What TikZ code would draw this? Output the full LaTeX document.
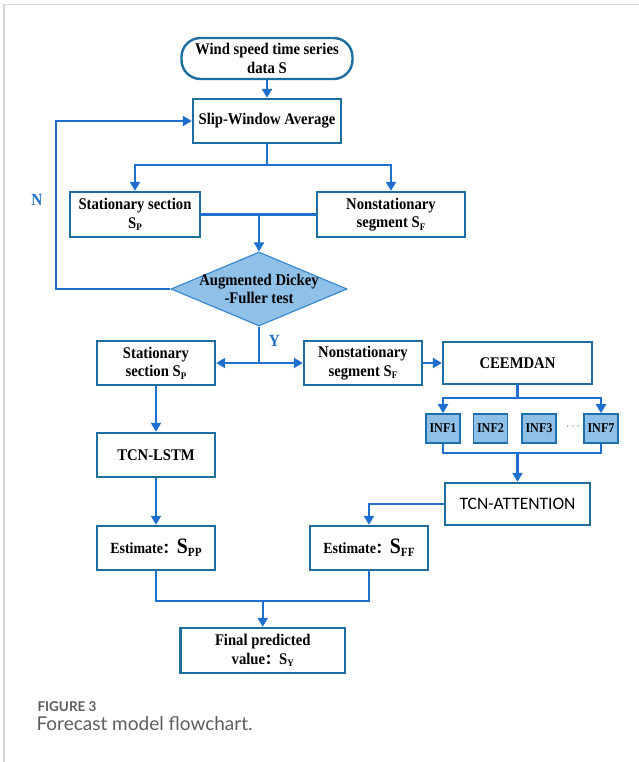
\documentclass[tikz,border=0pt]{standalone}
\usepackage{fontspec}
\setmainfont{Liberation Serif}[FakeStretch=0.9]
\newfontfamily\cjk{Noto Sans CJK SC}
\newfontfamily\calfont{Carlito}
\newfontfamily\capfont{Lato}
\usetikzlibrary{shapes.geometric,arrows.meta}
\definecolor{conn}{HTML}{1F6FCF}
\definecolor{boxb}{HTML}{1E6FA0}
\definecolor{dfill}{HTML}{8FC0E8}
\definecolor{dborder}{HTML}{3A8AD0}
\definecolor{framec}{HTML}{D6D6D6}
\definecolor{captxt}{HTML}{5E5E5E}
\newcommand\mysub[1]{\raisebox{-0.35ex}{\fontsize{10}{10}\selectfont #1}}
\newcommand\estim[1]{{\fontsize{15.5}{18}\selectfont Estimate}{\cjk\fontsize{14}{18}\selectfont ：}{\fontsize{22}{22}\selectfont S}\raisebox{-0.45ex}{\fontsize{12.5}{12}\selectfont #1}}
\begin{document}
\begin{tikzpicture}[x=1pt,y=-1pt,
  box/.style={draw=boxb, line width=2.4pt, fill=white, inner sep=0pt, align=center, font=\fontsize{16.3}{18.6}\selectfont\bfseries},
  inf/.style={draw=boxb!70!conn, line width=1.6pt, fill=dfill, minimum width=34pt, minimum height=29pt, inner sep=0pt, font=\fontsize{13.5}{14}\selectfont\bfseries},
  arr/.style={draw=conn, line width=2.2pt, -{Triangle[length=9pt,width=10pt]}},
  ln/.style={draw=conn, line width=2.2pt},
  lbl/.style={text=conn, font=\fontsize{17}{17}\selectfont\bfseries}]

\useasboundingbox (0,0) rectangle (639,762);
\fill[white] (0,0) rectangle (639,762);
\draw[framec, line width=1.5pt] (4,762) -- (4,4.5) -- (639,4.5);

% nodes
\node[box, rounded corners=19pt, minimum width=171pt, minimum height=41pt] (start) at (267,58.5) {Wind speed time series\\data S};
\node[box, minimum width=148pt, minimum height=44pt] (slip) at (267,121) {Slip-Window Average};
\node[box, minimum width=130pt, minimum height=45pt] (st1) at (135,214.5) {Stationary section\\S\mysub{P}};
\node[box, minimum width=148pt, minimum height=45pt] (ns1) at (391,214.5) {Nonstationary\\segment S\mysub{F}};
\node[diamond, draw=dborder, fill=dfill, line width=1.2pt, minimum width=176pt, minimum height=74pt, inner sep=0pt] (adf) at (259,289) {};
\node[align=center, font=\fontsize{16.3}{18.6}\selectfont\bfseries] (adft) at (adf) {Augmented Dickey\\-Fuller test};
\node[box, minimum width=118pt, minimum height=44pt] (st2) at (156,363) {Stationary\\section S\mysub{P}};
\node[box, minimum width=118pt, minimum height=44pt] (ns2) at (363,363) {Nonstationary\\segment S\mysub{F}};
\node[box, minimum width=149pt, minimum height=42pt] (ceem) at (517.5,363) {CEEMDAN};
\node[inf] (inf1) at (443,428.5) {INF1};
\node[inf] (inf2) at (490.5,428.5) {INF2};
\node[inf] (inf3) at (539,428.5) {INF3};
\node[font=\fontsize{13}{13}\selectfont, text=boxb] (dots) at (573,427) {$\cdots$};
\node[inf] (inf7) at (601,428.5) {INF7};
\node[box, minimum width=118pt, minimum height=44pt] (tlstm) at (156,455) {TCN-LSTM};
\node[box, minimum width=145pt, minimum height=42pt, font=\calfont\fontsize{17.5}{18}\selectfont] (tatt) at (517.5,504) {TCN-ATTENTION};
\node[box, minimum width=118pt, minimum height=44pt] (est1) at (156,548) {\estim{PP}};
\node[box, minimum width=118pt, minimum height=44pt] (est2) at (369,548) {\estim{FF}};
\node[box, minimum width=164.5pt, minimum height=45pt] (final) at (262.75,650.5) {Final predicted\\value{\cjk\fontsize{14}{18}\selectfont ：}S\mysub{Y}};

\node[lbl] (nlab) at (37,200) {N};
\node[lbl] (ylab) at (274.5,341) {Y};

% coordinates
\coordinate (s1) at (267,165);
\coordinate (nc) at (56,289);
\coordinate (j) at (259,363);
\coordinate (c1) at (517.5,398);
\coordinate (m1) at (517.5,453);
\coordinate (m2) at (262.75,601);

% connectors
\draw[arr] (start.south) -- (slip.north);
\draw[ln] (slip.south) -- (s1);
\draw[arr] (s1) -| (st1.north);
\draw[arr] (s1) -| (ns1.north);
\draw[ln] (st1.east) -- (ns1.west);
\draw[arr] (st1.east -| adf.north) -- (adf.north);
\draw[arr] (adf.west) -- (nc) |- (slip.west);
\draw[ln] (adf.south) -- (j);
\draw[arr] (j) -- (st2.east);
\draw[arr] (j) -- (ns2.west);
\draw[arr] (ns2.east) -- (ceem.west);
\draw[ln] (ceem.south) -- (c1);
\draw[arr] (c1) -| (inf1.north);
\draw[arr] (c1) -| (inf7.north);
\draw[ln] (inf1.south) |- (m1);
\draw[ln] (inf7.south) |- (m1);
\draw[arr] (m1) -- (tatt.north);
\draw[arr] (st2.south) -- (tlstm.north);
\draw[arr] (tlstm.south) -- (est1.north);
\draw[arr] (tatt.west) -| (est2.north);
\draw[ln] (est1.south) |- (m2);
\draw[ln] (est2.south) |- (m2);
\draw[arr] (m2) -- (final.north);

% caption
\node[anchor=west, text=captxt, font=\capfont\bfseries\fontsize{13.5}{14}\selectfont] (fig) at (34,707) {FIGURE 3};
\node[anchor=west, text=captxt, font=\capfont\fontsize{19}{20}\selectfont] (cap) at (33,724) {Forecast model flowchart.};
\end{tikzpicture}
\end{document}
